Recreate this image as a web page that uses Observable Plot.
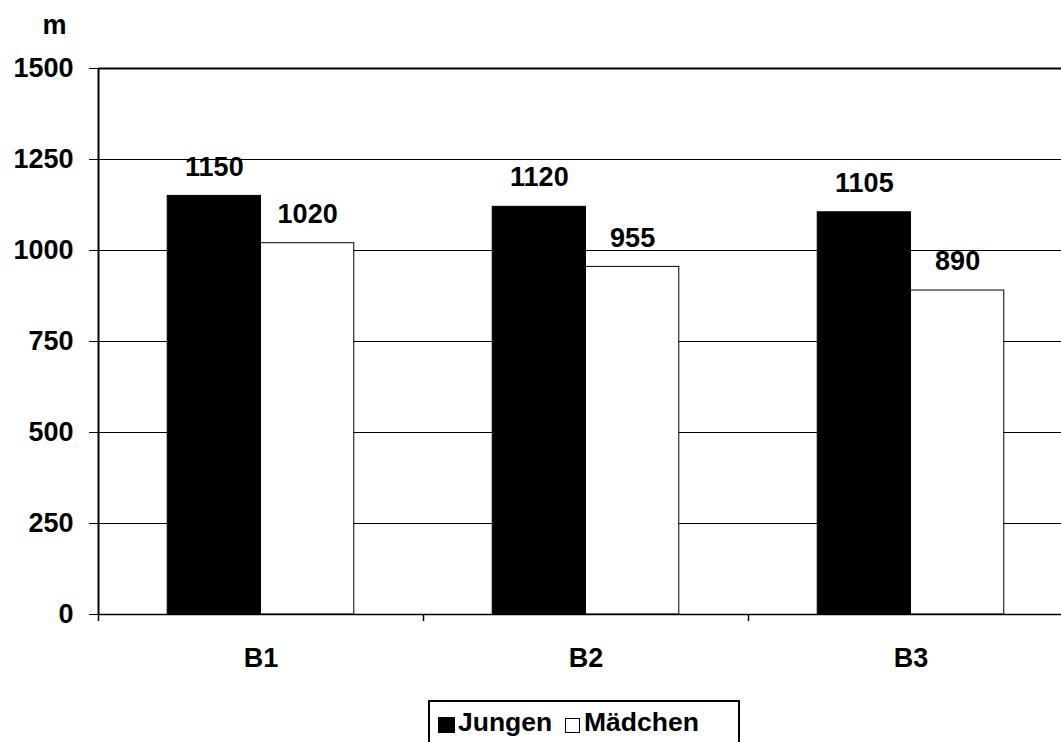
<!DOCTYPE html>
<html><head><meta charset="utf-8">
<script src="https://cdn.jsdelivr.net/npm/d3@7"></script>
<script src="https://cdn.jsdelivr.net/npm/@observablehq/plot@0.6"></script>
<style>
body{margin:0;background:#fff;font-family:"Liberation Sans",Arial,sans-serif;}
#wrap{position:relative;width:1061px;height:742px;overflow:hidden;}
#chart svg{display:block;}
#legend{position:absolute;left:428px;top:700px;width:312px;height:60px;border:2px solid #000;box-sizing:border-box;font-weight:bold;font-size:26.5px;line-height:26px;color:#000;background:#fff;}
#legend .sw{position:absolute;box-sizing:border-box;}
#legend .lb{position:absolute;white-space:nowrap;}
</style></head>
<body><div id="wrap"><div id="chart"></div><div id="legend"></div></div>
<script>
const categories = ["B1", "B2", "B3"];
const series = ["Jungen", "Mädchen"];
const jungen = [1150, 1120, 1105];
const maedchen = [1020, 955, 890];
const yTicks = [0, 250, 500, 750, 1000, 1250, 1500];
const yUnit = "m";
const seriesColors = ["#000000", "#ffffff"];

const GROUP_PAD = 0.213, BAR_W = 0.287;
const values = [jungen, maedchen];
const rows = categories.flatMap((c, i) => series.map((s, j) => ({cat: c, i, s, j, value: values[j][i]})));
const font = {fontSize: 27, fontWeight: "bold"};

const chart = Plot.plot({
  width: 1061,
  height: 700,
  marginLeft: 98,
  marginRight: 0,
  marginTop: 68,
  marginBottom: 86,
  style: {fontFamily: "'Liberation Sans', Arial, sans-serif", fontSize: "27px", fontWeight: "bold", color: "#000", background: "#fff"},
  x: {type: "linear", domain: [0, categories.length], range: [98, 1073], axis: null},
  y: {domain: [0, 1500], nice: false, axis: null},
  color: {domain: series, range: seriesColors},
  marks: [
    Plot.ruleY(yTicks.slice(1, -1), {stroke: "#000", strokeWidth: 1}),
    Plot.rectY(rows, {
      x1: d => d.i + GROUP_PAD + d.j * BAR_W,
      x2: d => d.i + GROUP_PAD + (d.j + 1) * BAR_W,
      y: "value", fill: "s", stroke: "#000", strokeWidth: 1
    }),
    Plot.ruleY([yTicks[yTicks.length - 1]], {stroke: "#000", strokeWidth: 2}),
    Plot.ruleY([0], {stroke: "#000", strokeWidth: 1.5}),
    Plot.ruleX([0], {y1: 0, y2: 1500, stroke: "#000", strokeWidth: 2}),
    Plot.axisY({ticks: yTicks, tickSize: 9, tickPadding: 16, label: null, tickFormat: d => String(d), ...font}),
    Plot.axisX({ticks: d3.range(categories.length + 1), tickSize: 7, label: null, tickFormat: () => "", strokeWidth: 1.5}),
    Plot.axisX({ticks: categories.map((c, i) => i + 0.5), tickSize: 0, tickPadding: 33, label: null, tickFormat: d => categories[Math.floor(d)], ...font}),
    Plot.text(rows, {
      x: d => d.i + GROUP_PAD + (d.j + 0.5) * BAR_W,
      y: "value", text: d => String(d.value), dy: -29, lineAnchor: "middle", fill: "#000", ...font
    }),
    Plot.text([yUnit], {frameAnchor: "top-left", dx: -44, dy: -43, text: d => d, textAnchor: "middle", lineAnchor: "middle", fill: "#000", ...font})
  ]
});
document.getElementById("chart").appendChild(chart);

// legend
const legend = document.getElementById("legend");
const swatchPos = [{l: 8, t: 15, w: 17, h: 16, border: false}, {l: 135, t: 16, w: 15, h: 15, border: true}];
const labelLeft = [28, 154];
series.forEach((s, j) => {
  const sw = document.createElement("span");
  sw.className = "sw";
  const p = swatchPos[j];
  sw.style.left = p.l + "px"; sw.style.top = p.t + "px";
  sw.style.width = p.w + "px"; sw.style.height = p.h + "px";
  sw.style.background = seriesColors[j];
  if (p.border) sw.style.border = "1px solid #000";
  legend.appendChild(sw);
  const lb = document.createElement("span");
  lb.className = "lb";
  lb.textContent = s;
  lb.style.left = labelLeft[j] + "px";
  lb.style.top = "7px";
  legend.appendChild(lb);
});
</script>
</body></html>
